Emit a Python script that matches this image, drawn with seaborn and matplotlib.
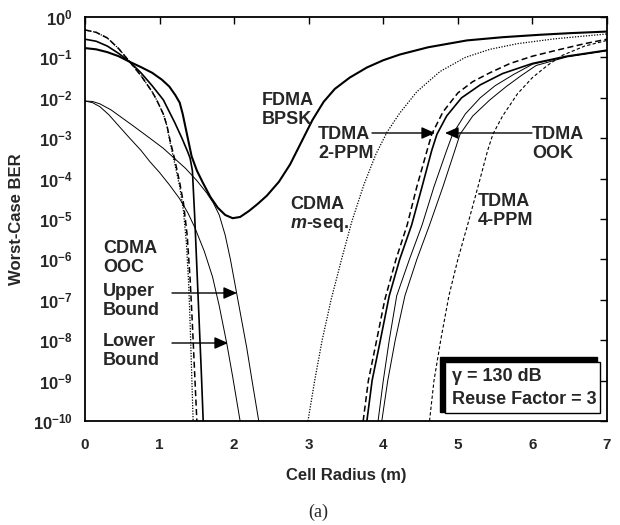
import numpy as np
import pandas as pd
import matplotlib
matplotlib.use("Agg")
import matplotlib.pyplot as plt
import seaborn as sns
from matplotlib.patches import Rectangle
from matplotlib.ticker import NullLocator

# ---------------- data (log10 of worst-case BER vs cell radius in m) ----------------
fdma_r = [0, 0.15, 0.3, 0.45, 0.6, 0.75, 0.9, 1.03, 1.13, 1.21, 1.27, 1.31, 1.35, 1.39, 1.43,
          1.5, 1.58, 1.68, 1.78, 1.88, 1.98, 2.08, 2.2, 2.32, 2.44, 2.6, 2.75, 2.9, 3.05, 3.2,
          3.35, 3.55, 3.78, 4.0, 4.22, 4.6, 5.12, 5.6, 6.1, 6.5, 7.0]
fdma_lg = [-0.77, -0.80, -0.87, -0.97, -1.11, -1.24, -1.38, -1.55, -1.72, -1.93, -2.12, -2.4,
           -2.75, -3.1, -3.45, -3.8, -4.1, -4.45, -4.72, -4.9, -4.98, -4.95, -4.8, -4.62, -4.42,
           -4.08, -3.65, -3.1, -2.55, -2.1, -1.78, -1.5, -1.25, -1.07, -0.93, -0.75, -0.58,
           -0.5, -0.44, -0.4, -0.36]

mseq_left_r = [0, 0.15, 0.3, 0.45, 0.6, 0.75, 0.9, 0.96, 1.05, 1.1, 1.14, 1.2, 1.27, 1.32,
               1.36, 1.39, 1.41, 1.43, 1.45]
mseq_left_lg = [-0.32, -0.38, -0.52, -0.78, -1.11, -1.45, -1.85, -2.05, -2.4, -2.7, -3.1,
                -3.6, -4.2, -4.8, -5.6, -6.6, -7.6, -8.8, -10.0]
mseq_right_r = [2.99, 3.08, 3.18, 3.3, 3.44, 3.58, 3.74, 3.9, 4.05, 4.22, 4.45, 4.76, 5.1,
                5.43, 5.8, 6.3, 7.0]
mseq_right_lg = [-10.0, -9.0, -8.0, -7.0, -6.0, -5.05, -4.15, -3.4, -2.85, -2.38, -1.85,
                 -1.35, -1.0, -0.8, -0.66, -0.54, -0.42]

ppm2_left_r = [0, 0.15, 0.3, 0.45, 0.6, 0.75, 0.9, 0.96, 1.05, 1.1, 1.14, 1.2, 1.27, 1.32,
               1.37, 1.41, 1.44, 1.47, 1.50]
ppm2_left_lg = [-0.32, -0.38, -0.52, -0.78, -1.11, -1.45, -1.85, -2.05, -2.4, -2.7, -3.05,
                -3.5, -4.1, -4.6, -5.4, -6.5, -7.6, -8.8, -10.0]
ppm2_right_r = [3.73, 3.8, 3.9, 4.02, 4.17, 4.32, 4.45, 4.58, 4.65, 4.8, 5.0, 5.2, 5.43, 5.7,
                6.0, 6.33, 6.7, 7.0]
ppm2_right_lg = [-10.0, -9.0, -8.1, -7.0, -6.0, -5.15, -4.2, -3.35, -2.9, -2.35, -1.88, -1.6,
                 -1.38, -1.15, -0.97, -0.82, -0.66, -0.55]

ook_left_r = [0, 0.15, 0.3, 0.45, 0.6, 0.75, 0.9, 1.05, 1.2, 1.3, 1.38, 1.41, 1.44, 1.47,
              1.5, 1.53, 1.56, 1.585]
ook_left_lg = [-0.55, -0.6, -0.72, -0.9, -1.11, -1.38, -1.7, -2.05, -2.6, -3.0, -3.35, -3.5,
               -3.8, -4.9, -6.2, -7.5, -8.8, -10.0]
ook_right_r = [3.78, 3.85, 3.95, 4.08, 4.22, 4.38, 4.52, 4.65, 4.72, 4.85, 5.05, 5.3, 5.6,
               6.0, 6.46, 7.0]
ook_right_lg = [-10.0, -9.0, -8.1, -6.9, -6.0, -5.15, -4.2, -3.3, -2.9, -2.45, -2.0, -1.68,
                -1.4, -1.15, -0.97, -0.82]

oocu_left_r = [0, 0.1, 0.2, 0.35, 0.5, 0.65, 0.87, 1.05, 1.2, 1.35, 1.5, 1.63, 1.72, 1.8,
               1.88, 1.95, 2.03, 2.1, 2.17, 2.24, 2.33]
oocu_left_lg = [-2.08, -2.09, -2.15, -2.3, -2.5, -2.7, -3.0, -3.25, -3.5, -3.75, -4.05, -4.35,
                -4.6, -4.9, -5.4, -6.0, -6.8, -7.5, -8.2, -9.0, -10.0]
oocu_right_r = [3.93, 4.0, 4.08, 4.18, 4.35, 4.52, 4.68, 4.85, 4.93, 5.1, 5.3, 5.5, 5.75,
                6.0, 6.46, 7.0]
oocu_right_lg = [-10.0, -9.0, -8.0, -6.9, -6.0, -5.15, -4.2, -3.3, -2.9, -2.4, -2.0, -1.7,
                 -1.42, -1.17, -0.98, -0.83]

oocl_left_r = [0, 0.1, 0.2, 0.32, 0.44, 0.6, 0.75, 0.87, 1.0, 1.13, 1.27, 1.38, 1.47, 1.6,
               1.71, 1.8, 1.9, 1.98, 2.08]
oocl_left_lg = [-2.08, -2.12, -2.22, -2.42, -2.67, -3.0, -3.3, -3.58, -3.85, -4.15, -4.5,
                -4.85, -5.2, -5.8, -6.43, -7.15, -8.07, -8.9, -10.0]
oocl_right_r = [3.98, 4.06, 4.16, 4.29, 4.45, 4.62, 4.8, 4.96, 5.03, 5.2, 5.43, 5.65, 5.85,
                6.05, 6.46, 7.0]
oocl_right_lg = [-10.0, -9.0, -8.0, -6.9, -6.0, -5.15, -4.2, -3.3, -2.9, -2.45, -2.05, -1.72,
                 -1.45, -1.2, -0.99, -0.84]

ppm4_right_r = [4.62, 4.68, 4.77, 4.88, 5.0, 5.13, 5.27, 5.4, 5.47, 5.6, 5.8, 6.0, 6.2, 6.4,
                6.7, 7.0]
ppm4_right_lg = [-10.0, -9.0, -8.0, -6.9, -6.0, -5.15, -4.2, -3.3, -2.9, -2.45, -1.9, -1.5,
                 -1.2, -0.95, -0.72, -0.58]

xtick_vals = [0, 1, 2, 3, 4, 5, 6, 7]
xtick_labels = ["0", "1", "2", "3", "4", "5", "6", "7"]
ytick_exps = [0, -1, -2, -3, -4, -5, -6, -7, -8, -9, -10]

branches = [
    ("fdma", "a", fdma_r, fdma_lg),
    ("mseq", "L", mseq_left_r, mseq_left_lg),
    ("mseq", "R", mseq_right_r, mseq_right_lg),
    ("ppm2", "L", ppm2_left_r, ppm2_left_lg),
    ("ppm2", "R", ppm2_right_r, ppm2_right_lg),
    ("ook", "L", ook_left_r, ook_left_lg),
    ("ook", "R", ook_right_r, ook_right_lg),
    ("oocu", "L", oocu_left_r, oocu_left_lg),
    ("oocu", "R", oocu_right_r, oocu_right_lg),
    ("oocl", "L", oocl_left_r, oocl_left_lg),
    ("oocl", "R", oocl_right_r, oocl_right_lg),
    ("ppm4", "R", ppm4_right_r, ppm4_right_lg),
]
rows = []
for curve, br, rr, lg in branches:
    for a, b in zip(rr, lg):
        rows.append({"curve": curve, "branch": br, "radius": a, "ber": 10.0 ** b})
df = pd.DataFrame(rows)

styles = {
    "fdma": ("-", 1.5),
    "mseq": ((0, (1, 1.2)), 0.9),
    "ppm2": ((0, (4, 2.2)), 1.1),
    "ook": ("-", 1.2),
    "oocu": ("-", 0.7),
    "oocl": ("-", 0.7),
    "ppm4": ((0, (3, 2)), 0.8),
}

# ---------------- styling ----------------
sns.set_theme(style="white")
plt.rcParams["font.family"] = ["Liberation Sans", "DejaVu Sans"]
plt.rcParams["mathtext.fontset"] = "custom"
plt.rcParams["mathtext.rm"] = "Liberation Sans:bold"
plt.rcParams["mathtext.bf"] = "Liberation Sans:bold"
plt.rcParams["mathtext.it"] = "Liberation Sans:italic:bold"
plt.rcParams["mathtext.default"] = "bf"

W, H = 620, 525
fig = plt.figure(figsize=(W / 100, H / 100), dpi=100)
L, R, T, B = 85, 607, 17, 421
ax = fig.add_axes([L / W, 1 - B / H, (R - L) / W, (B - T) / H])
ax.set_yscale("log")

for (curve, br), sub in df.groupby(["curve", "branch"], sort=False):
    ls, lw = styles[curve]
    sns.lineplot(data=sub, x="radius", y="ber", ax=ax, color="black", linestyle=ls,
                 linewidth=lw, sort=False, estimator=None, legend=False)

ax.set_xlim(0, 7)
ax.set_ylim(1e-10, 1)
ax.set_xticks(xtick_vals)
ax.set_xticklabels(xtick_labels, fontweight="bold", fontsize=11)
ax.set_yticks([10.0 ** e for e in ytick_exps])
ax.set_yticklabels([r"$10^{%d}$" % e for e in ytick_exps], fontsize=12)
ax.yaxis.set_minor_locator(NullLocator())
ax.xaxis.set_minor_locator(NullLocator())
ax.tick_params(axis="both", which="major", direction="in", top=True, right=True,
               length=5, width=1, color="black")
ax.tick_params(axis="y", pad=9)
ax.tick_params(axis="x", pad=12)
for s in ax.spines.values():
    s.set_color("black")
    s.set_linewidth(1.3)

ax.set_xlabel("Cell Radius (m)", fontsize=12, fontweight="bold")
ax.set_ylabel("Worst-Case BER", fontsize=12, fontweight="bold")
ax.xaxis.set_label_coords(0.5, (B - 468) / (B - T))
ax.yaxis.set_label_coords((24 - L) / (R - L), 0.5)


def P(px, py):
    return (px / W, 1 - py / H)


tk = dict(fontsize=13, fontweight="bold", ha="left", va="top", linespacing=1.15,
          transform=fig.transFigure, zorder=6)
fig.text(*P(262, 92), "FDMA\nBPSK", **tk)
fig.text(*P(318, 126), "TDMA\n2-PPM", **tk)
fig.text(*P(532, 126), "TDMA\nOOK", **tk)
fig.text(*P(290, 196), "CDMA\n$\\mathit{m}$-seq.", **tk)
fig.text(*P(478, 193), "TDMA\n4-PPM", **tk)
fig.text(*P(103, 240), "CDMA\nOOC", **tk)
fig.text(*P(103, 283), "Upper\nBound", **tk)
fig.text(*P(103, 333), "Lower\nBound", **tk)

arrow = dict(arrowstyle="-|>,head_length=0.45,head_width=0.2", color="black", lw=1.0,
             shrinkA=0, shrinkB=0, mutation_scale=18)
for tail, tip in [((372, 133), (435, 133)), ((532, 133), (445, 133)),
                  ((172, 293), (237, 293)), ((172, 343), (228, 343))]:
    ax.annotate("", xy=P(*tip), xytext=P(*tail), xycoords="figure fraction",
                textcoords="figure fraction", arrowprops=arrow)

# parameter box with heavy shadow on the upper-left
ax.add_patch(Rectangle(P(440, 412), 157 / W, 55 / H, transform=fig.transFigure,
                       facecolor="black", edgecolor="black", clip_on=False, zorder=5))
ax.add_patch(Rectangle(P(445, 413), 155 / W, 51 / H, transform=fig.transFigure,
                       facecolor="white", edgecolor="black", lw=1.0, clip_on=False, zorder=5))
fig.text(*P(452, 368), "γ = 130 dB", **tk)
fig.text(*P(452, 391), "Reuse Factor = 3", **tk)

fig.text(318 / W, 1 - 512 / H, "(a)", ha="center", va="center", fontsize=13,
         family="Liberation Serif")

fig.savefig("out.png", dpi=100)
